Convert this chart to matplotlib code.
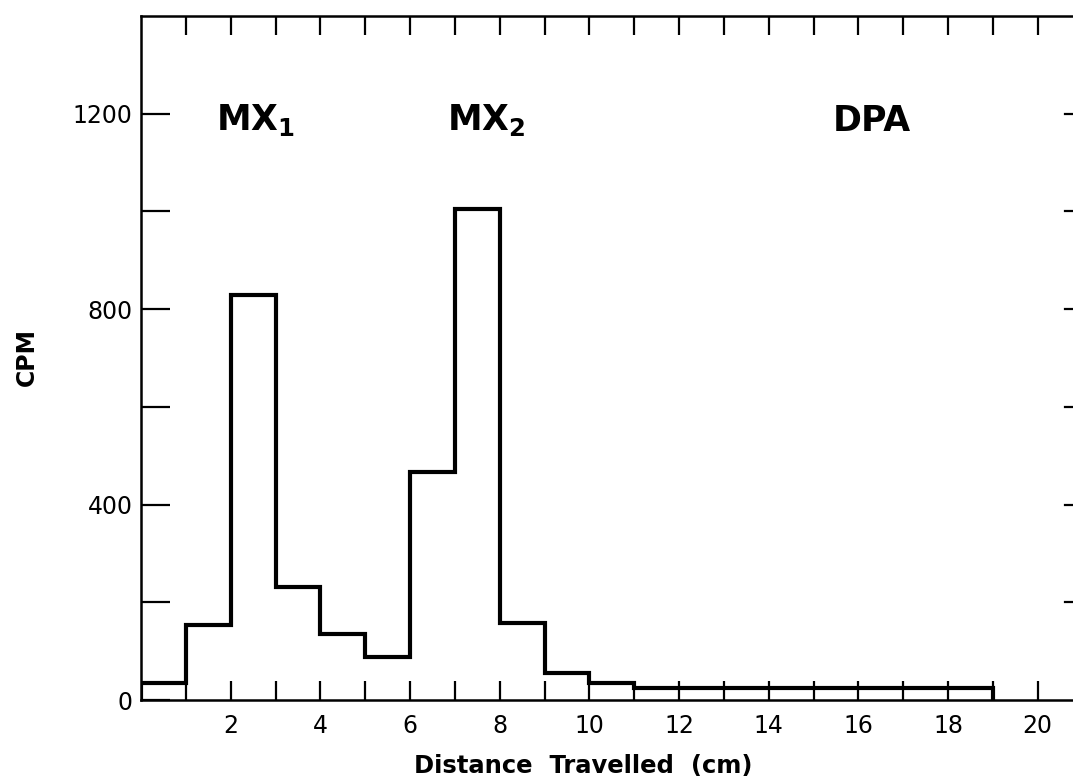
import numpy as np
from matplotlib import pyplot as plt

# counts per 1 cm slice of the chromatogram
edges = np.arange(0, 20)
cpm = [35, 153, 830, 231, 135, 88, 466, 1006, 157, 55, 35,
       25, 25, 25, 25, 25, 25, 25, 25]
xticks = [2, 4, 6, 8, 10, 12, 14, 16, 18, 20]
yticks = [0, 400, 800, 1200]
peaks = [(2.55, 1150, r'MX$_{\mathbf{1}}$'), (7.7, 1150, r'MX$_{\mathbf{2}}$'), (16.3, 1150, 'DPA')]

plt.rcParams['font.family'] = 'DejaVu Sans'
plt.rcParams['mathtext.fontset'] = 'dejavusans'

fig = plt.figure(figsize=(10.73, 7.79), dpi=100)
ax = fig.add_axes([0.1314, 0.1014, 0.8775, 0.878])

ax.stairs(cpm, edges, baseline=0, color='black', lw=3.0)

ax.set_xlim(0, 21)
ax.set_ylim(0, 1400)

for s in ['left', 'bottom', 'top']:
    ax.spines[s].set_linewidth(1.8)
ax.spines['right'].set_visible(False)

# bottom / top ticks every cm, labels every 2
ax.set_xticks(np.arange(1, 21))
ax.set_xticklabels([str(t) if t in xticks else '' for t in range(1, 21)], fontsize=17)
ax.tick_params(axis='x', which='major', direction='in', length=14, width=1.6,
               top=True, pad=10)

ax.set_yticks(np.arange(0, 1400, 200))
ax.set_yticklabels([str(t) if t in yticks else '' for t in range(0, 1400, 200)], fontsize=17)
ax.tick_params(axis='y', which='major', direction='in', length=21, width=1.6, pad=6)

# right-hand tick marks (the right spine is cut off in the original)
for y in range(200, 1400, 200):
    ax.plot([20.6, 21], [y, y], color='black', lw=1.6, clip_on=False)

for x, y, s in peaks:
    ax.text(x, y, s, fontsize=25, fontweight='bold', ha='center', va='bottom')

fig.text(583 / 1073, 1 - 766 / 779, 'Distance  Travelled  (cm)', fontsize=17.5,
         fontweight='bold', ha='center', va='center')
fig.text(27 / 1073, 1 - 357 / 779, 'CPM', fontsize=17, fontweight='bold',
         rotation=90, ha='center', va='center')

fig.savefig('out.png', dpi=100)
